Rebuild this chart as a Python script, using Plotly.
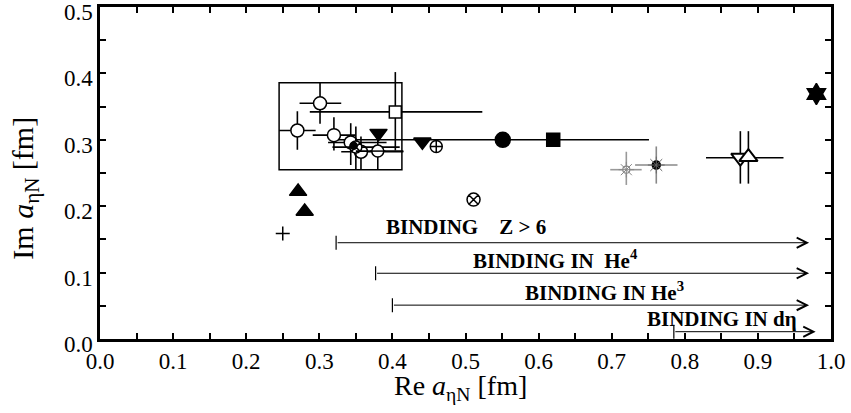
import plotly.graph_objects as go

# ---------------- data ----------------
# hollow circles
oc_x = [0.301, 0.270, 0.320, 0.343, 0.357]
oc_y = [0.355, 0.314, 0.307, 0.296, 0.282]
oc_xlo = [0.273, 0.245, 0.291, 0.312, 0.330]
oc_xhi = [0.330, 0.295, 0.349, 0.392, 0.415]
oc_ylo = [0.324, 0.285, 0.284, 0.262, 0.255]
oc_yhi = [0.386, 0.343, 0.334, 0.325, 0.305]

# circle with x (cluster)
cx_x = [0.350]
cx_y = [0.289]
cx_xlo = [0.318]
cx_xhi = [0.410]
cx_ylo = [0.255]
cx_yhi = [0.320]

# small filled circle in cluster
sc_x = [0.347]
sc_y = [0.291]

# hollow square
sq_x = [0.404]
sq_y = [0.342]
sq_xlo = [0.287]
sq_xhi = [0.523]
sq_ylo = [0.284]
sq_yhi = [0.402]

# circle with minus
cm_x = [0.380]
cm_y = [0.283]
cm_xlo = [0.350]
cm_xhi = [0.415]
cm_ylo = [0.255]
cm_yhi = [0.310]

# filled down triangles
fdt_x = [0.381, 0.441]
fdt_y = [0.310, 0.297]

# circle plus
cp_x = [0.460]
cp_y = [0.290]

# filled circle
fc_x = [0.551]
fc_y = [0.300]

# filled square (long horizontal bar)
fs_x = [0.620]
fs_y = [0.300]
fs_xlo = [0.315]
fs_xhi = [0.751]

# circle with cross
cc_x = [0.511]
cc_y = [0.210]

# filled up triangles
fut_x = [0.271, 0.280]
fut_y = [0.222, 0.192]

# plus
pl_x = [0.250]
pl_y = [0.159]

# gray hollow star
gs_x = [0.720]
gs_y = [0.255]
gs_xlo = [0.698]
gs_xhi = [0.741]
gs_ylo = [0.232]
gs_yhi = [0.282]

# black filled star
bs_x = [0.761]
bs_y = [0.262]
bs_xlo = [0.732]
bs_xhi = [0.790]
bs_ylo = [0.234]
bs_yhi = [0.290]

# hollow down / up triangles
hdt_x = [0.876]
hdt_y = [0.273]
hdt_xlo = [0.829]
hdt_xhi = [0.935]
hdt_ylo = [0.234]
hdt_yhi = [0.313]
hut_x = [0.887]
hut_y = [0.274]
hut_ylo = [0.234]
hut_yhi = [0.313]

# hexagram
hx_x = [0.980]
hx_y = [0.369]

# box
box_x = [0.245, 0.413]
box_y = [0.255, 0.386]

# binding arrows
arr_start = [0.323, 0.377, 0.400, 0.785]
arr_end = [0.970, 0.970, 0.970, 0.979]
arr_y = [0.145, 0.099, 0.051, 0.011]
lab_text = ["BINDING &nbsp;&nbsp; Z > 6", "BINDING IN &nbsp;He<sup>4</sup>",
            "BINDING IN He<sup>3</sup>", "BINDING IN dη"]
lab_x = [0.500, 0.623, 0.690, 0.851]
lab_y = [0.168, 0.120, 0.072, 0.030]

# ticks
x_ticks = [0.0, 0.1, 0.2, 0.3, 0.4, 0.5, 0.6, 0.7, 0.8, 0.9, 1.0]
y_ticks = [0.0, 0.1, 0.2, 0.3, 0.4, 0.5]
x_tick_text = ["0.0", "0.1", "0.2", "0.3", "0.4", "0.5", "0.6", "0.7", "0.8", "0.9", "1.0"]
y_tick_text = ["0.0", "0.1", "0.2", "0.3", "0.4", "0.5"]

FONT = "Liberation Serif"
fig = go.Figure()


def err(lo, hi, v):
    return dict(type="data", symmetric=False,
                array=[h - a for h, a in zip(hi, v)],
                arrayminus=[a - l for l, a in zip(lo, v)],
                width=0, thickness=1.6, color="black")


def add(x, y, symbol, size, color="black", lcolor="black", lw=1.5,
        ex=None, ey=None, ecolor="black"):
    tr = go.Scatter(x=x, y=y, mode="markers", showlegend=False, cliponaxis=False,
                    hoverinfo="skip",
                    marker=dict(symbol=symbol, size=size, color=color,
                                line=dict(color=lcolor, width=lw)))
    if ex is not None:
        e = err(ex[0], ex[1], x)
        e["color"] = ecolor
        tr.error_x = e
    if ey is not None:
        e = err(ey[0], ey[1], y)
        e["color"] = ecolor
        tr.error_y = e
    fig.add_trace(tr)


add(sq_x, sq_y, "square", 12, "white", ex=(sq_xlo, sq_xhi), ey=(sq_ylo, sq_yhi))
add(fs_x, fs_y, "square", 13, "black", ex=(fs_xlo, fs_xhi))
add(fc_x, fc_y, "circle", 15, "black")
add(oc_x, oc_y, "circle", 13, "white", ex=(oc_xlo, oc_xhi), ey=(oc_ylo, oc_yhi))
add(cx_x, cx_y, "circle-x", 12, "white", ex=(cx_xlo, cx_xhi), ey=(cx_ylo, cx_yhi))
add(sc_x, sc_y, "circle", 7, "black")
add(cm_x, cm_y, "circle", 12, "white", ex=(cm_xlo, cm_xhi), ey=(cm_ylo, cm_yhi))
add(cm_x, cm_y, "line-ew", 11, "black", lw=1.5)
add(fdt_x, fdt_y, "triangle-down", 15, "black")
add(cp_x, cp_y, "circle-cross", 12, "white")
add(cc_x, cc_y, "circle-x", 13, "white")
add(fut_x, fut_y, "triangle-up", 15, "black")
add(pl_x, pl_y, "cross-thin", 10, "black", lw=1.5)
add(gs_x, gs_y, "circle", 7, "white", lcolor="#888888", lw=1.2,
    ex=(gs_xlo, gs_xhi), ey=(gs_ylo, gs_yhi), ecolor="#999999")
add(gs_x, gs_y, "asterisk", 13, "#888888", lcolor="#888888", lw=1.0)
add(bs_x, bs_y, "circle", 8, "black",
    ex=(bs_xlo, bs_xhi), ey=(bs_ylo, bs_yhi), ecolor="#888888")
add(bs_x, bs_y, "asterisk", 14, "#666666", lcolor="#666666", lw=1.0)
add(hdt_x, hdt_y, "triangle-down", 16, "white", lw=2,
    ex=(hdt_xlo, hdt_xhi), ey=(hdt_ylo, hdt_yhi))
add(hut_x, hut_y, "triangle-up", 16, "white", lw=2, ey=(hut_ylo, hut_yhi))
add(hx_x, hx_y, "hexagram", 16, "black")

# box
fig.add_shape(type="rect", xref="x", yref="y", x0=box_x[0], x1=box_x[1],
              y0=box_y[0], y1=box_y[1], line=dict(color="black", width=1.5),
              layer="below")

# arrows
for s, e, yy in zip(arr_start, arr_end, arr_y):
    fig.add_annotation(x=e, y=yy, ax=s, ay=yy, xref="x", yref="y",
                       axref="x", ayref="y", showarrow=True, text="",
                       arrowhead=5, arrowsize=2.0, arrowwidth=1.0,
                       arrowcolor="black")
fig.add_trace(go.Scatter(x=arr_start, y=arr_y, mode="markers", showlegend=False,
                         hoverinfo="skip",
                         marker=dict(symbol="line-ns", size=10,
                                     line=dict(color="black", width=1.2))))
for t, xx, yy in zip(lab_text, lab_x, lab_y):
    fig.add_annotation(x=xx, y=yy, xref="x", yref="y", text="<b>" + t + "</b>",
                       showarrow=False, font=dict(family=FONT, size=21, color="black"))

# axis titles as annotations
fig.add_annotation(xref="paper", yref="paper", x=0.4925, y=-0.145,
                   text="Re <i>a</i><sub>ηN</sub> [fm]", showarrow=False,
                   xanchor="center", yanchor="middle",
                   font=dict(family=FONT, size=28, color="black"))
fig.add_annotation(xref="paper", yref="paper", x=-0.103, y=0.455,
                   text="Im <i>a</i><sub>ηN</sub> [fm]", showarrow=False,
                   textangle=-90, xanchor="center", yanchor="middle",
                   font=dict(family=FONT, size=30, color="black"))

axis_common = dict(showline=True, linewidth=2.5, linecolor="black", mirror="ticks",
                   ticks="inside", ticklen=6, tickwidth=1.5, tickcolor="black",
                   showgrid=False, zeroline=False, automargin=False,
                   ticklabeloverflow="allow",
                   tickfont=dict(family=FONT, size=23, color="black"))
fig.update_xaxes(range=[0, 1.0], tickmode="array", tickvals=x_ticks, ticktext=x_tick_text,
                 minor=dict(dtick=0.05, tick0=0, ticks="inside", ticklen=6,
                            tickcolor="black", tickwidth=1.5),
                 **axis_common)
fig.update_yaxes(range=[0, 0.5], tickmode="array", tickvals=y_ticks, ticktext=y_tick_text,
                 minor=dict(dtick=0.05, tick0=0, ticks="inside", ticklen=6,
                            tickcolor="black", tickwidth=1.5),
                 ticklabelshift=5,
                 **axis_common)
fig.update_layout(width=851, height=413, margin=dict(l=100, r=20, t=7, b=74),
                  plot_bgcolor="white", paper_bgcolor="white", hovermode=False)
fig.write_html("out.html", config={"displayModeBar": False},
               post_script="document.body.style.margin='0';")
